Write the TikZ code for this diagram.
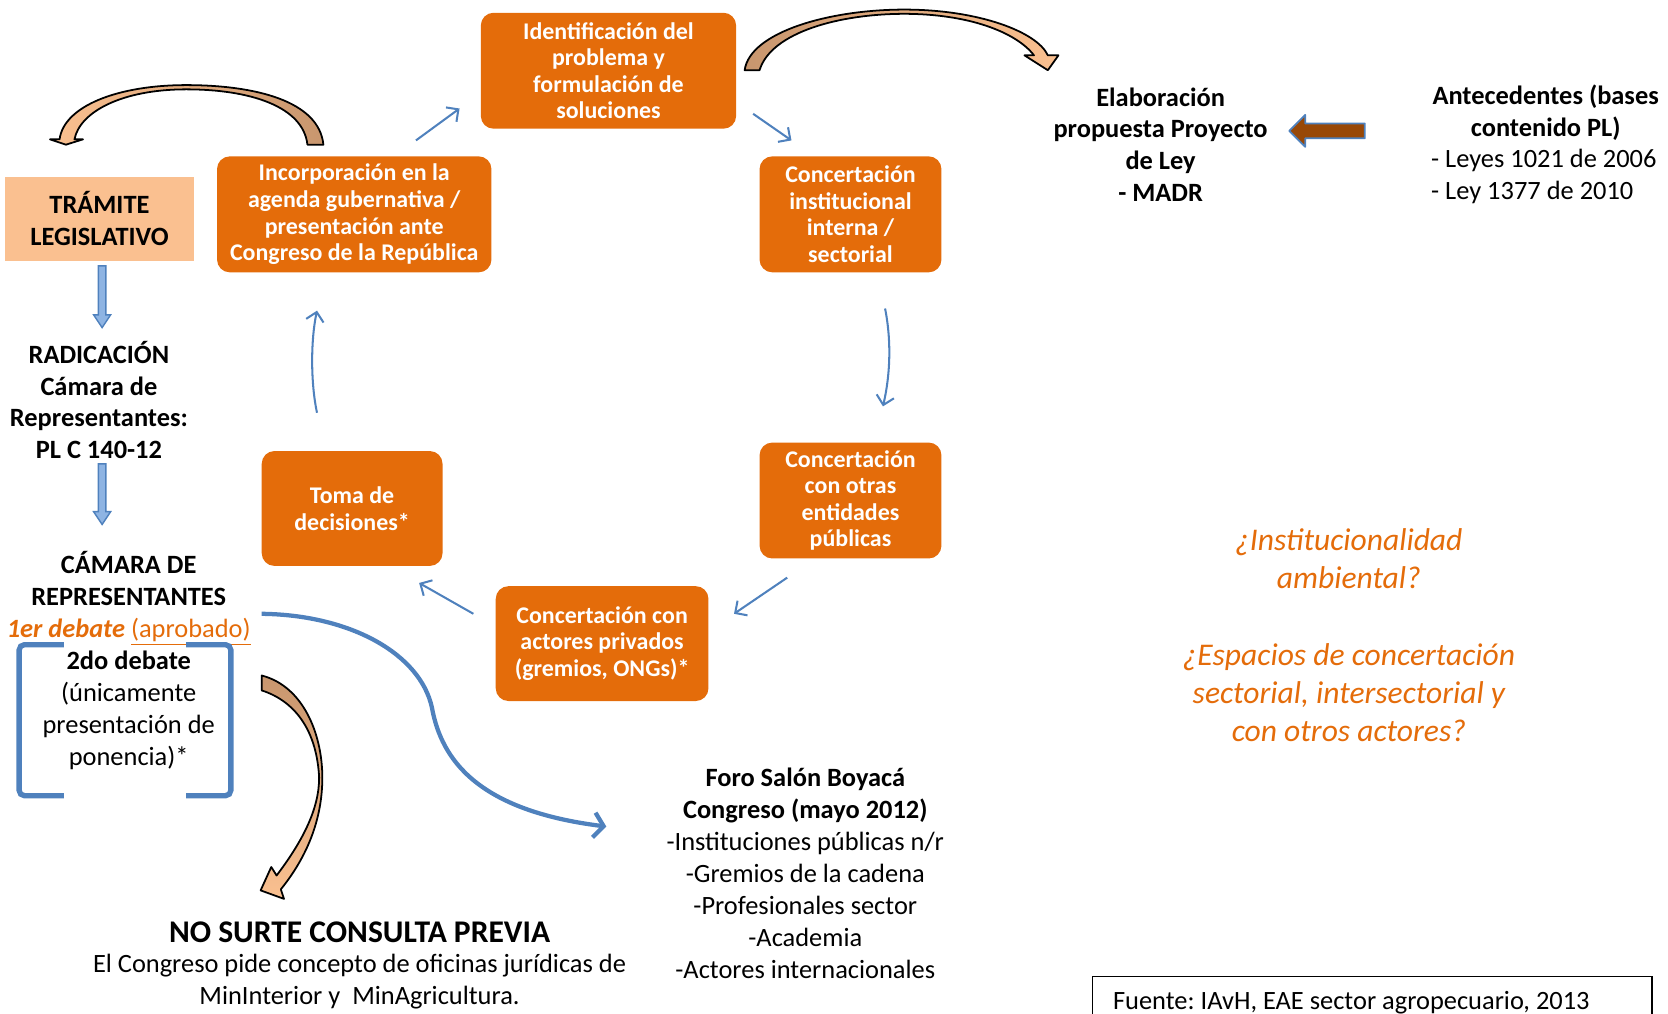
\documentclass[tikz,border=0pt]{standalone}
\usepackage{fontspec}
\setmainfont{Carlito}
\usetikzlibrary{arrows.meta}
\definecolor{orng}{HTML}{E46C0A}
\definecolor{peach}{HTML}{FAC090}
\definecolor{arrtan}{HTML}{C8966E}
\definecolor{bblue}{HTML}{4F81BD}
\definecolor{lblue}{HTML}{8EB4E3}
\definecolor{brn}{HTML}{984807}
\frenchspacing
\begin{document}
\begin{tikzpicture}[x=0.6pt,y=-0.6pt,
  obox/.style={fill=orng, rounded corners=7.2pt, text=white, align=center, inner sep=0pt,
    font=\fontsize{13.5}{15}\selectfont\bfseries},
  txt/.style={font=\fontsize{14.9}{18}\selectfont, align=center, inner sep=0pt},
  btxt/.style={txt, font=\fontsize{14.9}{18}\selectfont\bfseries},
  qtxt/.style={font=\fontsize{17.8}{21.6}\selectfont\itshape, text=orng, align=center, inner sep=0pt},
  thinarr/.style={draw=bblue, line width=1.15pt, -{Straight Barb[length=5pt,width=10pt]}},
  bigarr/.style={draw=bblue, line width=2.4pt, -{Straight Barb[length=5.5pt,width=14pt]}},
  curvarr/.style={draw=black, line width=1pt, line join=round},
  downarr/.style={fill=lblue, draw=bblue, line width=0.8pt},
  brack/.style={draw=bblue, line width=3pt, rounded corners=3pt}
]
\useasboundingbox (0,0) rectangle (1568,953);
\clip (0,0) rectangle (1568,953);

% orange boxes
\node[obox, minimum width=144pt, minimum height=65.4pt] (ident) at (572,66.5)
  {Identificación del\\problema y\\formulación de\\soluciones};
\node[obox, minimum width=154.8pt, minimum height=65.4pt] (incorp) at (333,201.5)
  {Incorporación en la\\agenda gubernativa /\\presentación ante\\Congreso de la República};
\node[obox, minimum width=102.6pt, minimum height=65.4pt] (cinst) at (799.5,201.5)
  {Concertación\\institucional\\interna /\\sectorial};
\node[obox, minimum width=102.6pt, minimum height=65.4pt] (cotras) at (799.5,470.5)
  {Concertación\\con otras\\entidades\\públicas};
\node[obox, minimum width=102pt, minimum height=64.8pt] (toma) at (331,478)
  {Toma de\\decisiones*};
\node[obox, minimum width=120pt, minimum height=64.8pt] (cpriv) at (566,605)
  {Concertación con\\actores privados\\(gremios, ONGs)*};

% tramite box
\node[fill=peach, minimum width=106.2pt, minimum height=47.4pt, align=center, inner sep=0pt,
  font=\fontsize{14.9}{18}\selectfont\bfseries] (tram) at (93.5,205.5) {TRÁMITE\\LEGISLATIVO};

% texts
\node[btxt] (elab) at (1091,136) {Elaboración\\propuesta Proyecto\\de Ley\\- MADR};
\node[btxt] (antec) at (1453,106) {Antecedentes (bases\\contenido PL)};
\node[txt, align=left, anchor=west] (leyes) at (1345,166) {- Leyes 1021 de 2006\\- Ley 1377 de 2010};
\node[btxt] (radic) at (93,376) {RADICACIÓN\\Cámara de\\Representantes:\\PL C 140-12};
\node[txt] (camara) at (121,621) {\textbf{CÁMARA DE}\\\textbf{REPRESENTANTES}\\
  {\color{orng}\textbf{\textit{1er debate}} \underline{(aprobado)}}\\\textbf{2do debate}\\(únicamente\\presentación de\\ponencia)*};
\node[btxt, font=\fontsize{17.8}{21}\selectfont\bfseries] (nosurte) at (338,876) {NO SURTE CONSULTA PREVIA};
\node[txt] (congreso) at (338,923) {El Congreso pide concepto de oficinas jurídicas de\\MinInterior y\ \ MinAgricultura.};
\node[txt] (foro) at (757,821) {\textbf{Foro Salón Boyacá}\\\textbf{Congreso (mayo 2012)}\\-Instituciones públicas n/r\\-Gremios de la cadena\\-Profesionales sector\\-Academia\\-Actores internacionales};
\node[qtxt] (q1) at (1268,525) {¿Institucionalidad\\ambiental?};
\node[qtxt] (q2) at (1268,651) {¿Espacios de concertación\\sectorial, intersectorial y\\con otros actores?};
\draw[line width=0.8pt] (1027,918) rectangle (1553,980);
\node[txt, anchor=west] (fuente) at (1046,943) {Fuente: IAvH, EAE sector agropecuario, 2013};

% brackets
\draw[brack] (60,606) -- (18,606) -- (18,748) -- (60,748);
\draw[brack] (175,606) -- (217,606) -- (217,748) -- (175,748);

% blue down block arrows
\draw[downarr] (92.5,250) -- (99.5,250) -- (99.5,296) -- (104,296) -- (96,308) -- (88,296) -- (92.5,296) -- cycle;
\draw[downarr] (92.5,436) -- (99.5,436) -- (99.5,481) -- (104,481) -- (96,493) -- (88,481) -- (92.5,481) -- cycle;

% brown block arrow left
\draw[fill=brn, draw=bblue, line width=1pt, line join=round]
  (1283,116) -- (1283,130) -- (1227,130) -- (1227,138) -- (1212,123) -- (1227,108) -- (1227,116) -- cycle;

% thin cycle arrows
\coordinate (c1s) at (391,132); \coordinate (c1e) at (432,102);
\coordinate (c2s) at (708,107); \coordinate (c2e) at (744,132);
\coordinate (c3s) at (832,290); \coordinate (c3e) at (830,382);
\coordinate (c4s) at (740,543); \coordinate (c4e) at (690,577);
\coordinate (c5s) at (445,577); \coordinate (c5e) at (394,548);
\coordinate (c6s) at (298,388); \coordinate (c6e) at (298,292);
\draw[thinarr] (c1s) -- (c1e);
\draw[thinarr] (c2s) -- (c2e);
\draw[thinarr] (c3s) .. controls (838,320) and (837,352) .. (c3e);
\draw[thinarr] (c4s) -- (c4e);
\draw[thinarr] (c5s) -- (c5e);
\draw[thinarr] (c6s) .. controls (292,360) and (292,320) .. (c6e);

% big blue curve
\coordinate (bs) at (246,577); \coordinate (be) at (570,777);
\draw[bigarr] (bs) .. controls (330,578) and (395,615) .. (406,665) .. controls (415,715) and (450,762) .. (be);

% curved brown arrows
\path[curvarr, left color=peach, right color=arrtan]
  (304,136) .. controls (300,95) and (240,80) .. (175,80) .. controls (110,80) and (60,100) .. (56,131)
  -- (47,131) -- (62,136) -- (78,131) -- (70,131)
  .. controls (75,105) and (115,84) .. (175,84) .. controls (235,84) and (285,100) .. (289,136) -- cycle;
\path[curvarr, left color=arrtan, right color=peach]
  (700,66) .. controls (705,30) and (780,9) .. (850,9) .. controls (920,9) and (975,30) .. (985,52)
  -- (995,52) -- (985,66) -- (963,52) -- (972,52)
  .. controls (955,30) and (910,13) .. (850,13) .. controls (790,13) and (725,30) .. (714,66) -- cycle;
\path[curvarr, top color=arrtan, bottom color=peach]
  (246,635) .. controls (285,645) and (303,690) .. (303,731) .. controls (303,775) and (285,810) .. (264,836)
  -- (267,845) -- (245,837) -- (255,815) -- (260,823)
  .. controls (285,790) and (300,760) .. (300,731) .. controls (298,690) and (280,660) .. (246,649) -- cycle;
\end{tikzpicture}
\end{document}
